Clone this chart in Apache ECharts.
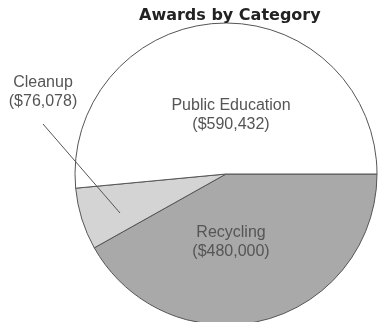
<!DOCTYPE html>
<html>
<head>
<meta charset="utf-8">
<script src="https://cdn.jsdelivr.net/npm/echarts@6/dist/echarts.min.js"></script>
<style>
  html, body { margin: 0; padding: 0; background: #fff; }
  #main { width: 382px; height: 322px; }
</style>
</head>
<body>
<div id="main"></div>
<script>
// data
var categories = ["Recycling", "Cleanup", "Public Education"];
var awards = [480000, 76078, 590432];
var sliceColors = ["#a9a9a9", "#d4d4d4", "#ffffff"];

// where each label sits (label centre); the small slice gets a leader line
var labelSpots = {
  "Recycling": [231, 242],
  "Cleanup": [43, 92],
  "Public Education": [231, 115]
};
var outsideLabel = "Cleanup";

function money(v) {
  return "($" + v.toLocaleString("en-US") + ")";
}

var myChart = echarts.init(document.getElementById("main"));

var labelFont = {
  fontFamily: "Liberation Sans",
  fontSize: 16,
  lineHeight: 19,
  color: "#555",
  overflow: "none",
  formatter: function (p) {
    return p.name + "\n" + money(p.value);
  }
};

function placeLabel(params) {
  var spot = labelSpots[categories[params.dataIndex]];
  var out = { x: spot[0], y: spot[1], align: "center", verticalAlign: "middle" };
  if (categories[params.dataIndex] === outsideLabel) {
    out.labelLinePoints = [[120, 213], [43, 124], [43, 124]];
  }
  return out;
}

// filled slices with the two inside labels
var mainData = categories.map(function (name, i) {
  return {
    name: name,
    value: awards[i],
    itemStyle: { color: sliceColors[i] },
    label: { show: name !== outsideLabel }
  };
});

// same slices, invisible, drawn on top only to carry the outside label and its line
var overlayData = categories.map(function (name, i) {
  return {
    name: name,
    value: awards[i],
    label: { show: name === outsideLabel },
    labelLine: { show: name === outsideLabel }
  };
});

var pieBase = {
  type: "pie",
  center: [226, 174],
  radius: 151,
  startAngle: 0,
  clockwise: true,
  emphasis: { disabled: true },
  labelLayout: placeLabel
};

var option = {
  animation: false,
  title: {
    text: "Awards by Category",
    left: 134,
    top: 3,
    textStyle: {
      fontFamily: "DejaVu Sans",
      fontWeight: "bold",
      fontSize: 16,
      color: "#222"
    }
  },
  series: [
    Object.assign({}, pieBase, {
      z: 2,
      data: mainData,
      itemStyle: { borderColor: "#555", borderWidth: 1 },
      label: Object.assign({ position: "inside" }, labelFont),
      labelLine: { show: false }
    }),
    Object.assign({}, pieBase, {
      z: 5,
      silent: true,
      data: overlayData,
      itemStyle: { color: "rgba(0,0,0,0)", borderWidth: 0 },
      label: Object.assign({ position: "outside" }, labelFont),
      labelLine: { lineStyle: { color: "#555", width: 1 } }
    })
  ]
};

myChart.setOption(option);
</script>
</body>
</html>
